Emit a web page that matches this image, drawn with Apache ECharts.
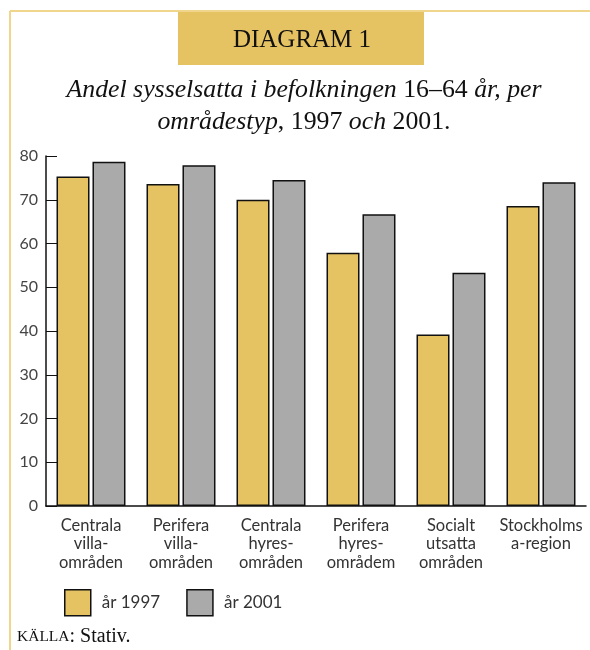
<!DOCTYPE html>
<html>
<head>
<meta charset="utf-8">
<script src="https://cdn.jsdelivr.net/npm/echarts@6/dist/echarts.min.js"></script>
<style>
  html, body { margin: 0; padding: 0; background: #fff; }
  #chart { width: 590px; height: 650px; }
</style>
</head>
<body>
<div id="chart"></div>
<script>
// data
const categories = [
  'Centrala\nvilla-\nområden',
  'Perifera\nvilla-\nområden',
  'Centrala\nhyres-\nområden',
  'Perifera\nhyres-\nområdem',
  'Socialt\nutsatta\nområden',
  'Stockholms\na-region'
];
const values1997 = [75.3, 73.6, 70.0, 57.9, 39.2, 68.6];
const values2001 = [78.7, 77.9, 74.5, 66.7, 53.3, 74.0];
const seriesNames = ['år 1997', 'år 2001'];

const yellow = '#E5C262';
const grey = '#AAAAAA';
const frame = '#EFD68C';
const sans = 'Lato, "Open Sans", sans-serif';
const serif = '"Liberation Serif", "DejaVu Serif", serif';

const myChart = echarts.init(document.getElementById('chart'));

const option = {
  animation: false,
  backgroundColor: '#fff',
  grid: { left: 46, right: 4, top: 156, bottom: 144 },
  legend: {
    left: 64,
    top: 589,
    padding: 0,
    icon: 'rect',
    itemWidth: 26,
    itemHeight: 26,
    itemGap: 26,
    itemStyle: { borderColor: '#111', borderWidth: 1.5 },
    textStyle: { fontFamily: sans, fontSize: 17, color: '#333', padding: [0, 0, 0, 6] },
    data: seriesNames
  },
  xAxis: {
    type: 'category',
    data: categories,
    axisLine: { lineStyle: { color: '#111', width: 1.5 } },
    axisTick: { inside: true, length: 8, lineStyle: { color: '#111' } },
    axisLabel: {
      fontFamily: sans, fontSize: 16.5, color: '#333',
      lineHeight: 18.5, margin: 10, interval: 0
    }
  },
  yAxis: {
    type: 'value',
    min: 0,
    max: 80,
    interval: 10,
    splitLine: { show: false },
    axisLine: { show: true, lineStyle: { color: '#111', width: 1.5 } },
    axisTick: { show: true, inside: true, length: 11, lineStyle: { color: '#111' } },
    axisLabel: { fontFamily: sans, fontSize: 16, color: '#444', margin: 8 }
  },
  series: [
    {
      name: seriesNames[0],
      type: 'bar',
      data: values1997,
      barWidth: 33,
      barGap: '9%',
      itemStyle: { color: yellow, borderColor: '#111', borderWidth: 1.5 }
    },
    {
      name: seriesNames[1],
      type: 'bar',
      data: values2001,
      barWidth: 33,
      barGap: '9%',
      itemStyle: { color: grey, borderColor: '#111', borderWidth: 1.5 }
    }
  ],
  graphic: [
    // frame, top and left
    { type: 'line', shape: { x1: 10, y1: 11, x2: 590, y2: 11 }, style: { stroke: frame, lineWidth: 2 } },
    { type: 'line', shape: { x1: 10, y1: 11, x2: 10, y2: 650 }, style: { stroke: frame, lineWidth: 2 } },
    // heading box
    { type: 'rect', shape: { x: 178, y: 12, width: 246, height: 53 }, style: { fill: yellow } },
    {
      type: 'text', x: 302, y: 40,
      style: {
        text: 'DIAGRAM 1', fill: '#111',
        font: '25px ' + serif, align: 'center', verticalAlign: 'middle'
      }
    },
    {
      type: 'text', x: 304, y: 106,
      style: {
        text: '{i|Andel sysselsatta i befolkningen}{r| 16–64 }{i|år, per}\n{i|områdestyp}{r|, 1997 }{i|och}{r| 2001.}',
        align: 'center', verticalAlign: 'middle',
        rich: {
          i: { fontFamily: serif, fontStyle: 'italic', fontSize: 25.8, fill: '#111', lineHeight: 32 },
          r: { fontFamily: serif, fontSize: 25.8, fill: '#111', lineHeight: 32 }
        }
      }
    },
    {
      type: 'text', x: 17, y: 637,
      style: {
        text: '{s|KÄLLA}{n|: Stativ.}',
        verticalAlign: 'middle',
        rich: {
          s: { fontFamily: serif, fontSize: 15.5, fill: '#111' },
          n: { fontFamily: serif, fontSize: 20, fill: '#111' }
        }
      }
    }
  ]
};

myChart.setOption(option);
window.addEventListener('resize', myChart.resize);
</script>
</body>
</html>
